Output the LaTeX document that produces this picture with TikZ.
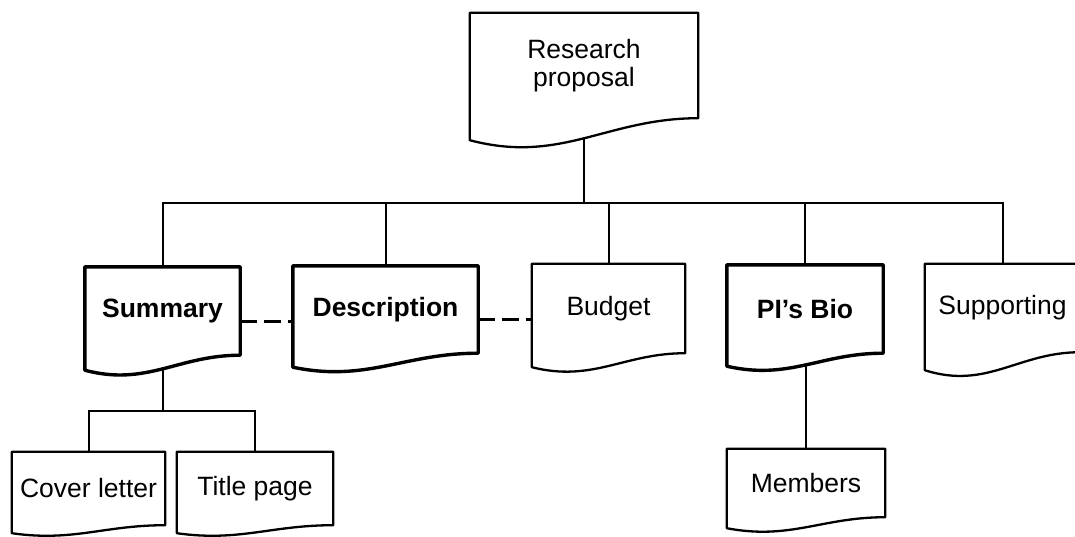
\documentclass[tikz,border=0pt]{standalone}
\usepackage{fontspec}
\setmainfont{Liberation Sans}
\usetikzlibrary{calc}

\pgfdeclarelayer{wires}
\pgfdeclarelayer{sheets}
\pgfsetlayers{wires,sheets,main}

\tikzset{
  x=1pt, y=-1pt,
  docnode/.style={inner sep=0pt, align=center,
    font=\fontsize{26.5}{28}\selectfont},
  sheetline/.style={draw=black, fill=white, line width=2.3pt, line join=round},
  sheetbold/.style={sheetline, line width=3.4pt},
  wire/.style={draw=black, line width=2pt},
  linkdash/.style={draw=black, line width=3pt, dash pattern=on 17pt off 7pt}
}

% outline of a document sheet around a node: straight top and sides,
% wavy bottom edge dipping by #3 on the left
\newcommand\sheetoutline[3][sheetline]{%
  \path[#1] (#2.north west) -- ($(#2.south west)+(0,#3)$)
    .. controls ($(#2.south west)!0.4!(#2.south east)+(0,2.1*#3)$)
       and ($(#2.south west)!0.6!(#2.south east)$) .. (#2.south east)
    -- (#2.north east) -- cycle;}

\begin{document}
\begin{tikzpicture}
  \useasboundingbox (0,0) rectangle (1075,536);

  % document nodes
  \node[docnode, minimum width=228pt, minimum height=105pt] (rp)  at (584,65.5)   {Research\\proposal};
  \node[docnode, minimum width=155pt, minimum height=88pt]  (sum) at (162.5,311)  {\textbf{Summary}};
  \node[docnode, minimum width=185pt, minimum height=87pt]  (desc) at (385.5,309.5) {\textbf{Description}};
  \node[docnode, minimum width=153pt, minimum height=89pt]  (bud) at (608.5,308.5) {Budget};
  \node[docnode, minimum width=156pt, minimum height=88pt]  (pi)  at (805,309)    {\textbf{PI's Bio}};
  \node[docnode, minimum width=155pt, minimum height=88pt]  (sup) at (1002.5,308) {Supporting};
  \node[docnode, minimum width=153pt, minimum height=73pt]  (cov) at (88.5,488.5) {Cover letter};
  \node[docnode, minimum width=156pt, minimum height=73pt]  (tit) at (255,488.5)  {Title page};
  \node[docnode, minimum width=158pt, minimum height=68pt]  (mem) at (806,483)    {Members};

  \coordinate (topbar) at (0,203);
  \coordinate (subbar) at (0,411);

  % connectors
  \begin{pgfonlayer}{wires}
    \draw[wire] (rp.center) -- (rp |- topbar);
    \draw[wire] (sum.center) -- (sum |- topbar) -- (sup |- topbar) -- (sup.center);
    \draw[wire] (desc.center) -- (desc |- topbar);
    \draw[wire] (bud.center) -- (bud |- topbar);
    \draw[wire] (pi.center) -- (pi |- topbar);
    \draw[wire] (sum.center) -- (sum |- subbar);
    \draw[wire] (cov.center) -- (cov |- subbar) -- (tit |- subbar) -- (tit.center);
    \draw[wire] (mem.center) -- (mem |- pi.center);
  \end{pgfonlayer}

  % sheets
  \begin{pgfonlayer}{sheets}
    \sheetoutline{rp}{22}
    \sheetoutline[sheetbold]{sum}{15}
    \sheetoutline[sheetbold]{desc}{14}
    \sheetoutline{bud}{14}
    \sheetoutline[sheetbold]{pi}{13}
    \sheetoutline{sup}{18}
    \sheetoutline{cov}{8}
    \sheetoutline{tit}{8}
    \sheetoutline{mem}{11}
  \end{pgfonlayer}

  % dashed links between sibling sections
  \draw[linkdash] ([yshift=-10pt]sum.east) -- ([yshift=-10pt]sum.east -| desc.west);
  \draw[linkdash] ([yshift=-10pt]desc.east) -- ([yshift=-10pt]desc.east -| bud.west);
\end{tikzpicture}
\end{document}
